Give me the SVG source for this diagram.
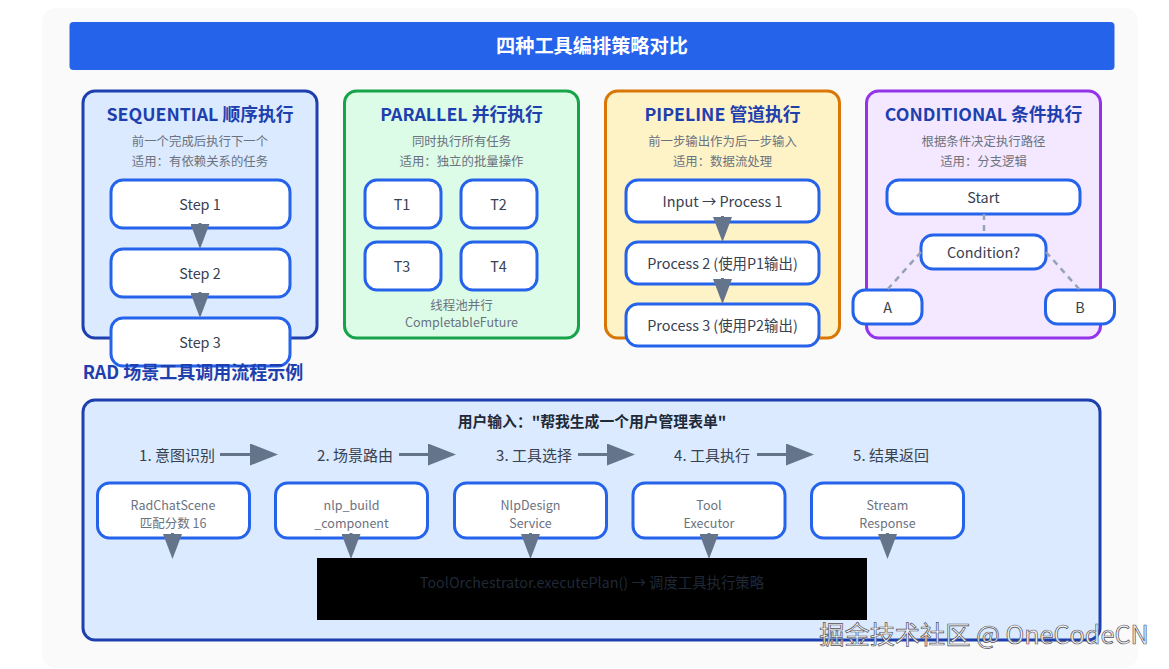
<svg xmlns="http://www.w3.org/2000/svg" width="1169" height="669" viewBox="0 0 1169 669">
<style>
text{font-family:"Noto Sans CJK SC","Noto Sans",sans-serif;text-anchor:middle}
.card{stroke-width:3}
.box{fill:#fff;stroke:#2563eb;stroke-width:3}
.h{font-size:17.800px;font-weight:700;fill:#1e40af}
.s{font-size:12.400px;fill:#6b7280}
.t{font-size:14.400px;fill:#374151}
.f{font-size:12.500px;fill:#6b7280}
.a{stroke:#64748b;stroke-width:3;fill:none}
.d{stroke:#94a3b8;stroke-width:2.500;stroke-dasharray:6 5;fill:none}
.st{font-size:15px;fill:#374151}
</style>
<defs>
<marker id="v" viewBox="0 0 10 10" refX="0" refY="5" markerUnits="userSpaceOnUse" markerWidth="25" markerHeight="19" orient="auto" preserveAspectRatio="none"><path d="M0 0L10 5L0 10Z" fill="#64748b"/></marker>
<marker id="h" viewBox="0 0 10 10" refX="0" refY="5" markerUnits="userSpaceOnUse" markerWidth="28" markerHeight="22" orient="auto" preserveAspectRatio="none"><path d="M0 0L10 5L0 10Z" fill="#64748b"/></marker>
</defs>
<rect width="1169" height="669" fill="#fff"/>
<rect x="42" y="8" width="1096" height="660" rx="14" fill="#fafafa"/>
<g id="title"><rect x="69.500" y="22" width="1045" height="48" rx="4" fill="#2563eb"/><text x="592" y="53" font-size="19.200" font-weight="700" fill="#fff">四种工具编排策略对比</text></g>

<g id="card-sequential"><rect class="card" x="83" y="91" width="234" height="247" rx="12" fill="#dbeafe" stroke="#1e40af"/><text class="h" x="200" y="121">SEQUENTIAL 顺序执行</text><text class="s" x="200" y="146">前一个完成后执行下一个</text><text class="s" x="200" y="166">适用：有依赖关系的任务</text></g>
<g id="step1"><rect class="box" x="111" y="180" width="179" height="48" rx="12"/><text class="t" x="200" y="210">Step 1</text></g>
<g id="step2"><rect class="box" x="111" y="249" width="179" height="48" rx="12"/><text class="t" x="200" y="279">Step 2</text></g>
<g id="step3"><rect class="box" x="111" y="318" width="179" height="48" rx="12"/><text class="t" x="200" y="348">Step 3</text></g>

<g id="card-parallel"><rect class="card" x="344.500" y="91" width="234" height="247" rx="12" fill="#dcfce7" stroke="#16a34a"/><text class="h" x="461.500" y="121">PARALLEL 并行执行</text><text class="s" x="461.500" y="146">同时执行所有任务</text><text class="s" x="461.500" y="166">适用：独立的批量操作</text><text class="f" x="461.500" y="310">线程池并行</text><text class="f" x="461.500" y="327">CompletableFuture</text></g>
<g id="t1"><rect class="box" x="365" y="180" width="76" height="48" rx="12"/><text class="t" x="402" y="210">T1</text></g>
<g id="t2"><rect class="box" x="461" y="180" width="76" height="48" rx="12"/><text class="t" x="498.500" y="210">T2</text></g>
<g id="t3"><rect class="box" x="365" y="242" width="76" height="48" rx="12"/><text class="t" x="402" y="272">T3</text></g>
<g id="t4"><rect class="box" x="461" y="242" width="76" height="48" rx="12"/><text class="t" x="498.500" y="272">T4</text></g>

<g id="card-pipeline"><rect class="card" x="605.500" y="91" width="234" height="247" rx="12" fill="#fef3c7" stroke="#d97706"/><text class="h" x="722.500" y="121">PIPELINE 管道执行</text><text class="s" x="722.500" y="146">前一步输出作为后一步输入</text><text class="s" x="722.500" y="166">适用：数据流处理</text></g>
<g id="p1"><rect class="box" x="626" y="180" width="193" height="42" rx="12"/><text class="t" x="722.500" y="207">Input → Process 1</text></g>
<g id="p2"><rect class="box" x="626" y="242" width="193" height="42" rx="12"/><text class="t" x="722.500" y="269">Process 2 (使用P1输出)</text></g>
<g id="p3"><rect class="box" x="626" y="304" width="193" height="42" rx="12"/><text class="t" x="722.500" y="331">Process 3 (使用P2输出)</text></g>

<g id="card-conditional"><rect class="card" x="866.500" y="91" width="234" height="247" rx="12" fill="#f3e8ff" stroke="#9333ea"/><text class="h" x="983.500" y="121">CONDITIONAL 条件执行</text><text class="s" x="983.500" y="146">根据条件决定执行路径</text><text class="s" x="983.500" y="166">适用：分支逻辑</text></g>
<g id="start"><rect class="box" x="887" y="180" width="193" height="34" rx="12"/><text class="t" x="983.500" y="203">Start</text></g>
<g id="condition"><rect class="box" x="921" y="235" width="125" height="34" rx="12"/><text class="t" x="983.500" y="258">Condition?</text></g>
<g id="a"><rect class="box" x="853" y="290" width="69" height="34" rx="12"/><text class="t" x="887.500" y="313">A</text></g>
<g id="b"><rect class="box" x="1045.500" y="290" width="69" height="34" rx="12"/><text class="t" x="1080" y="313">B</text></g>

<text x="193" y="379" font-size="18" font-weight="700" fill="#1e40af">RAD 场景工具调用流程示例</text>

<g id="panel"><rect class="card" x="83" y="400" width="1017" height="240" rx="12" fill="#dbeafe" stroke="#1e40af"/><text x="592" y="427" font-size="14.800" font-weight="700" fill="#1f2937">用户输入："帮我生成一个用户管理表单"</text></g>
<text class="st" x="177" y="461">1. 意图识别</text>
<text class="st" x="355" y="461">2. 场景路由</text>
<text class="st" x="534" y="461">3. 工具选择</text>
<text class="st" x="712" y="461">4. 工具执行</text>
<text class="st" x="891" y="461">5. 结果返回</text>
<g id="n1"><rect class="box" x="97.500" y="483" width="152" height="55" rx="12"/><text class="f" x="173" y="510">RadChatScene</text><text class="f" x="173" y="528">匹配分数 16</text></g>
<g id="n2"><rect class="box" x="275.500" y="483" width="152" height="55" rx="12"/><text class="f" x="351.500" y="510">nlp_build</text><text class="f" x="351.500" y="528">_component</text></g>
<g id="n3"><rect class="box" x="454.500" y="483" width="152" height="55" rx="12"/><text class="f" x="530.500" y="510">NlpDesign</text><text class="f" x="530.500" y="528">Service</text></g>
<g id="n4"><rect class="box" x="633" y="483" width="152" height="55" rx="12"/><text class="f" x="709" y="510">Tool</text><text class="f" x="709" y="528">Executor</text></g>
<g id="n5"><rect class="box" x="811.500" y="483" width="152" height="55" rx="12"/><text class="f" x="887.500" y="510">Stream</text><text class="f" x="887.500" y="528">Response</text></g>

<g id="connectors">
<line class="a" x1="200" y1="223" x2="200" y2="224" marker-end="url(#v)"/>
<line class="a" x1="200" y1="292" x2="200" y2="293" marker-end="url(#v)"/>
<line class="a" x1="722.500" y1="216" x2="722.500" y2="217" marker-end="url(#v)"/>
<line class="a" x1="722.500" y1="278" x2="722.500" y2="279" marker-end="url(#v)"/>
<line class="d" x1="984" y1="214" x2="984" y2="235"/>
<line class="d" x1="921" y1="252" x2="887" y2="290"/>
<line class="d" x1="1046" y1="252" x2="1080" y2="290"/>
<line class="a" x1="220" y1="454.500" x2="250" y2="454.500" marker-end="url(#h)"/>
<line class="a" x1="399" y1="454.500" x2="428" y2="454.500" marker-end="url(#h)"/>
<line class="a" x1="578" y1="454.500" x2="607" y2="454.500" marker-end="url(#h)"/>
<line class="a" x1="757" y1="454.500" x2="786" y2="454.500" marker-end="url(#h)"/>
<line class="a" x1="172.500" y1="533" x2="172.500" y2="534" marker-end="url(#v)"/>
<line class="a" x1="351" y1="533" x2="351" y2="534" marker-end="url(#v)"/>
<line class="a" x1="530.500" y1="533" x2="530.500" y2="534" marker-end="url(#v)"/>
<line class="a" x1="709" y1="533" x2="709" y2="534" marker-end="url(#v)"/>
<line class="a" x1="887.500" y1="533" x2="887.500" y2="534" marker-end="url(#v)"/>
</g>

<g id="orchestrator"><rect x="317" y="558" width="550" height="62" fill="#000"/><text x="592" y="588" font-size="14.400" fill="#1f2937">ToolOrchestrator.executePlan() → 调度工具执行策略</text></g>

<text x="984" y="644" font-size="25.200" fill="#f4f4f5" stroke="#52525b" stroke-width="0.700">掘金技术社区 @ OneCodeCN</text>
</svg>
